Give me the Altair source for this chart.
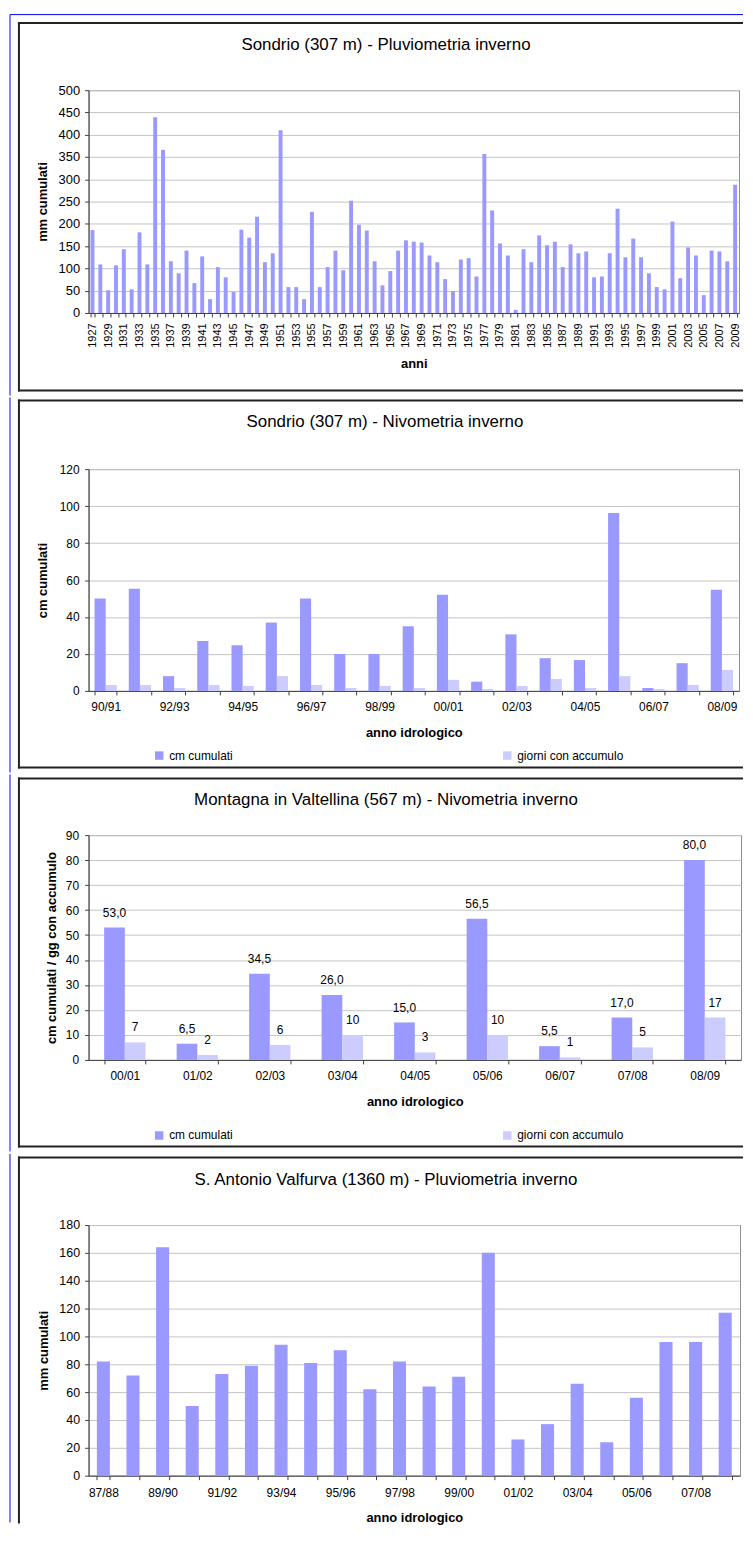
import altair as alt
import pandas as pd

FONT = "Liberation Sans"
BAR = "#9999FF"
BAR2 = "#CCCCFF"
BLUE = "#0000EE"
BOX = "#222222"
AXIS = "#404040"
GRID = "#C4C4C4"

SERIES = ["cm cumulati", "giorni con accumulo"]

# ---- Panel 1: Sondrio pluviometria ----
p1_title = "Sondrio (307 m) - Pluviometria inverno"
p1_years = list(range(1927, 2010))
p1_mm = [186, 109, 51, 107, 143, 53, 181, 109, 439, 366,
         116, 89, 140, 67, 127, 31, 103, 80, 47, 187,
         169, 216, 114, 134, 410, 58, 58, 31, 227, 58,
         103, 140, 96, 252, 198, 185, 116, 62, 94, 140,
         163, 160, 158, 129, 114, 76, 49, 120, 123, 82,
         357, 230, 156, 129, 7, 143, 114, 174, 152, 160,
         103, 154, 134, 138, 80, 82, 134, 234, 125, 167,
         125, 89, 58, 53, 205, 78, 147, 129, 40, 140,
         138, 116, 288]
p1_ticks = [0, 50, 100, 150, 200, 250, 300, 350, 400, 450, 500]

# ---- Panel 2: Sondrio nivometria ----
p2_title = "Sondrio (307 m) - Nivometria inverno"
p2_years = ["90/91", "91/92", "92/93", "93/94", "94/95", "95/96", "96/97", "97/98",
            "98/99", "99/00", "00/01", "01/02", "02/03", "03/04", "04/05", "05/06",
            "06/07", "07/08", "08/09"]
p2_cm = [50, 55.3, 8, 27, 24.7, 37, 50, 20, 20, 35, 52, 5, 30.6, 17.7, 16.7, 96.2, 1.6, 15, 54.8]
p2_gg = [3.2, 3.2, 1.6, 3.2, 2.7, 8, 3.2, 1.6, 2.7, 1.6, 6, 1, 2.7, 6.5, 1.6, 8, 1, 3.2, 11.3]
p2_ticks = [0, 20, 40, 60, 80, 100, 120]
p2_shown = ["90/91", "92/93", "94/95", "96/97", "98/99", "00/01", "02/03", "04/05", "06/07", "08/09"]

# ---- Panel 3: Montagna in Valtellina ----
p3_title = "Montagna in Valtellina (567 m) - Nivometria inverno"
p3_years = ["00/01", "01/02", "02/03", "03/04", "04/05", "05/06", "06/07", "07/08", "08/09"]
p3_cm = [53.0, 6.5, 34.5, 26.0, 15.0, 56.5, 5.5, 17.0, 80.0]
p3_gg = [7, 2, 6, 10, 3, 10, 1, 5, 17]
p3_ticks = [0, 10, 20, 30, 40, 50, 60, 70, 80, 90]

# ---- Panel 4: S. Antonio Valfurva ----
p4_title = "S. Antonio Valfurva (1360 m) - Pluviometria inverno"
p4_years = ["87/88", "88/89", "89/90", "90/91", "91/92", "92/93", "93/94", "94/95",
            "95/96", "96/97", "97/98", "98/99", "99/00", "00/01", "01/02", "02/03",
            "03/04", "04/05", "05/06", "06/07", "07/08", "08/09"]
p4_mm = [82, 72, 164, 50, 73, 79, 94, 81, 90, 62, 82, 64, 71, 160, 26, 37, 66, 24, 56, 96, 96, 117]
p4_ticks = [0, 20, 40, 60, 80, 100, 120, 140, 160, 180]
p4_shown = ["87/88", "89/90", "91/92", "93/94", "95/96", "97/98", "99/00", "01/02", "03/04",
            "05/06", "07/08"]

L = 89        # common left edge of the plot areas (page px)
BLUE_X = 10   # outer blue frame line
RIGHT = 747   # right end of the frame lines (page px)


def shown_expr(labels):
    arr = ",".join(f"'{s}'" for s in labels)
    return f"indexof([{arr}], datum.value) >= 0 ? datum.label : ''"


def decor(T, box_top, box_bot, blue_top, blue_bot, title, tx, ty, header=False):
    b = alt.Chart(alt.Data(values=[{"k": 1}]))
    layers = []
    if header:
        layers.append(b.mark_rule(color=BLUE, strokeWidth=1).encode(
            x=alt.value(BLUE_X - L), x2=alt.value(RIGHT - L), y=alt.value(blue_top - T)))
    layers.append(b.mark_rule(color=BLUE, strokeWidth=1).encode(
        x=alt.value(BLUE_X - L), y=alt.value(blue_top - T), y2=alt.value(blue_bot - T)))
    left_end = box_bot if box_bot is not None else blue_bot
    layers.append(b.mark_rule(color=BOX, strokeWidth=2).encode(
        x=alt.value(19 - L), y=alt.value(box_top - T - 1), y2=alt.value(left_end - T + 1)))
    layers.append(b.mark_rule(color=BOX, strokeWidth=2).encode(
        x=alt.value(18 - L), x2=alt.value(RIGHT - L), y=alt.value(box_top - T)))
    if box_bot is not None:
        layers.append(b.mark_rule(color=BOX, strokeWidth=2).encode(
            x=alt.value(18 - L), x2=alt.value(RIGHT - L), y=alt.value(box_bot - T)))
    layers.append(b.mark_text(fontSize=17, align="center", baseline="middle",
                              color="black").encode(
        x=alt.value(tx - L), y=alt.value(ty - T), text=alt.value(title)))
    return layers


def yaxis(title, values, fs, tpad, pad=5):
    return alt.Axis(title=title, values=values, tickSize=4, labelPadding=pad, labelFontSize=fs,
                    labelColor="black", gridColor=GRID,
                    domainColor=AXIS, tickColor=AXIS, titleFontSize=13,
                    titleFontWeight="bold", titleColor="black", titlePadding=tpad)


def xaxis(title, fs, pad, tpad, expr=None, **kw):
    opts = dict(title=title, tickBand="extent", tickSize=4, labelPadding=pad, labelFontSize=fs,
                labelColor="black", labelOverlap=False, grid=False,
                domainColor=AXIS, tickColor=AXIS, titleFontSize=13,
                titleFontWeight="bold", titleColor="black", titlePadding=tpad, labelAngle=0)
    if expr:
        opts["labelExpr"] = expr
    opts.update(kw)
    return alt.Axis(**opts)


def legend(lx, ly):
    return alt.Legend(orient="none", legendX=lx, legendY=ly, direction="horizontal", title=None,
                      labelFontSize=12, labelColor="black", symbolType="square",
                      symbolSize=72, symbolStrokeWidth=0, columnPadding=269, labelOffset=4,
                      padding=0)


def long_df(cats, a, b):
    rows = []
    for c, v1, v2 in zip(cats, a, b):
        rows.append({"anno": c, "serie": SERIES[0], "v": v1,
                     "lab": f"{v1:.1f}".replace(".", ",")})
        rows.append({"anno": c, "serie": SERIES[1], "v": v2, "lab": f"{v2:.0f}"})
    return pd.DataFrame(rows)


# ---------- Panel 1 ----------
T1, W1, H1 = 87, 654, 224
df1 = pd.DataFrame({"anno": p1_years, "mm": p1_mm})
bars1 = alt.Chart(df1).mark_bar(color=BAR).encode(
    x=alt.X("anno:O", sort=p1_years,
            scale=alt.Scale(paddingInner=0.5, paddingOuter=0.25),
            axis=xaxis("anni", 11, 6, 10,
                       "datum.value % 2 == 1 ? datum.label : ''",
                       labelAngle=270, labelAlign="right", labelBaseline="middle")),
    y=alt.Y("mm:Q", scale=alt.Scale(domain=[0, 500], nice=False),
            axis=yaxis("mm cumulati", p1_ticks, 13, 8.8)),
)
p1 = alt.layer(*decor(T1, 19.5, 389, 11, 394, p1_title, 388, 42, header=True),
               bars1).properties(width=W1, height=H1)

# ---------- Panel 2 ----------
T2, W2, H2 = 467, 654, 223
df2 = long_df(p2_years, p2_cm, p2_gg)
bars2 = alt.Chart(df2).mark_bar().encode(
    x=alt.X("anno:N", sort=p2_years,
            scale=alt.Scale(paddingInner=0.35, paddingOuter=0.175),
            axis=xaxis("anno idrologico", 12, 7, 13.5, shown_expr(p2_shown))),
    xOffset=alt.XOffset("serie:N", sort=SERIES, scale=alt.Scale(paddingInner=0)),
    y=alt.Y("v:Q", scale=alt.Scale(domain=[0, 120], nice=False),
            axis=yaxis("cm cumulati", p2_ticks, 12, 10, 5.5)),
    color=alt.Color("serie:N", sort=SERIES,
                    scale=alt.Scale(domain=SERIES, range=[BAR, BAR2]),
                    legend=legend(154 - L, 282)),
)
p2 = alt.layer(*decor(T2, 398, 767, 395, 772, p2_title, 387, 420),
               bars2).properties(width=W2, height=H2)

# ---------- Panel 3 ----------
T3, W3, H3 = 834, 656, 226
df3 = long_df(p3_years, p3_cm, p3_gg)
x3 = alt.X("anno:N", sort=p3_years,
           scale=alt.Scale(paddingInner=0.43, paddingOuter=0.215),
           axis=xaxis("anno idrologico", 12, 7, 13.5))
xo3 = alt.XOffset("serie:N", sort=SERIES, scale=alt.Scale(paddingInner=0))
y3 = alt.Y("v:Q", scale=alt.Scale(domain=[0, 90], nice=False),
           axis=yaxis("cm cumulati / gg con accumulo", p3_ticks, 12, 7.2, 6))
bars3 = alt.Chart(df3).mark_bar().encode(
    x=x3, xOffset=xo3, y=y3,
    color=alt.Color("serie:N", sort=SERIES,
                    scale=alt.Scale(domain=SERIES, range=[BAR, BAR2]),
                    legend=legend(154 - L, 296)),
)
text3 = alt.Chart(df3).mark_text(fontSize=12, color="black", align="center",
                                 baseline="alphabetic", dy=-11).encode(
    x=x3, xOffset=xo3, y=y3, text="lab:N")
p3 = alt.layer(*decor(T3, 777, 1147, 773, 1152, p3_title, 388, 799),
               bars3, text3).properties(width=W3, height=H3)

# ---------- Panel 4 ----------
T4, W4, H4 = 1225, 655, 252
df4 = pd.DataFrame({"anno": p4_years, "mm": p4_mm})
bars4 = alt.Chart(df4).mark_bar(color=BAR).encode(
    x=alt.X("anno:N", sort=p4_years,
            scale=alt.Scale(paddingInner=0.56, paddingOuter=0.28),
            axis=xaxis("anno idrologico", 12, 8, 13.5, shown_expr(p4_shown))),
    y=alt.Y("mm:Q", scale=alt.Scale(domain=[0, 180], nice=False),
            axis=yaxis("mm cumulati", p4_ticks, 12.5, 8.6, 5)),
)
p4 = alt.layer(*decor(T4, 1157, None, 1153.5, 1524, p4_title, 388, 1180),
               bars4).properties(width=W4, height=H4)

chart = alt.vconcat(p1, p2, p3, p4, spacing=0).resolve_scale(
    color="independent", x="independent", y="independent", xOffset="independent"
).resolve_legend(color="independent").properties(
    padding={"left": 1, "top": 1.5, "right": 0, "bottom": 0},
    background="white",
).configure(font=FONT).configure_view(stroke="#8C8C8C", strokeWidth=1)

chart.save("out.html", embed_options={"renderer": "svg", "actions": False})
